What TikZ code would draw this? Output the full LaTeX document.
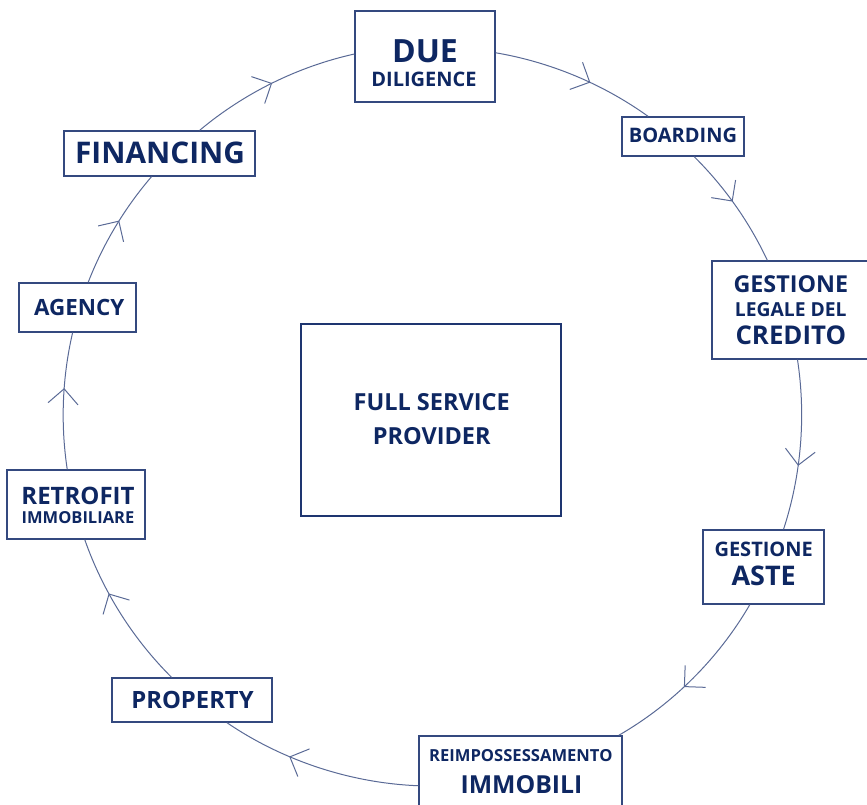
\documentclass[tikz,border=0pt]{standalone}
\usepackage{fontspec}
\setmainfont{Open Sans}
\usetikzlibrary{arrows.meta,decorations.markings}
\definecolor{txtc}{RGB}{14,39,98}
\definecolor{boxc}{RGB}{52,73,127}
\definecolor{linec}{RGB}{90,106,150}
\definecolor{mainc}{RGB}{30,53,112}
\tikzset{
  box/.style={draw=boxc, line width=1.4pt, fill=white, rectangle, inner sep=0pt},
  mainbox/.style={draw=mainc, line width=2.6pt, fill=white, rectangle, inner sep=0pt},
  lbl/.style={anchor=base, inner sep=0pt, text=txtc, font=\bfseries},
  conn/.style={draw=linec, line width=1pt, looseness=0.86, postaction={decorate},
    decoration={markings, mark=at position #1 with {\arrow{Straight Barb[length=15pt,width=30pt]}}}}
}
\newcommand{\fsz}[1]{\fontsize{#1}{#1}\selectfont}
\begin{document}
\begin{tikzpicture}[x=1pt,y=1pt]
\useasboundingbox (0,0) rectangle (867,804);
% boxes
\node[box, minimum width=140pt, minimum height=91pt] (due) at (425,747.5) {};
\node[box, minimum width=122pt, minimum height=39pt] (boarding) at (683,667.5) {};
\node[box, minimum width=157pt, minimum height=98pt] (legale) at (790.5,494) {};
\node[box, minimum width=121pt, minimum height=74pt] (aste) at (763.5,237) {};
\node[box, minimum width=203pt, minimum height=78pt] (reimp) at (520.5,29) {};
\node[box, minimum width=160pt, minimum height=44pt] (property) at (192,104) {};
\node[box, minimum width=138pt, minimum height=69pt] (retrofit) at (76,299.5) {};
\node[box, minimum width=117pt, minimum height=49pt] (agency) at (77.5,496.5) {};
\node[box, minimum width=191pt, minimum height=45pt] (financing) at (159.5,650.5) {};
\node[mainbox, minimum width=260pt, minimum height=192pt] (fsp) at (431,384) {};
% connectors
\draw[conn=0.598] (due.3.35) to[bend left=13.0] (boarding.150.7);
\draw[conn=0.464] (boarding.-61) to[bend left=10.0] (legale.115.7);
\draw[conn=0.62] (legale.-82.9) to[bend left=13.4] (aste.62.3);
\draw[conn=0.566] (aste.-110.7) to[bend left=14.9] (reimp.22.3);
\draw[conn=0.652] (reimp.-174.5) to[bend left=16.0] (property.-33.1);
\draw[conn=0.641] (property.132) to[bend left=12.9] (retrofit.-76.8);
\draw[conn=0.592] (retrofit.104.6) to[bend left=10.8] (agency.-101.1);
\draw[conn=0.559] (agency.67.2) to[bend left=9.7] (financing.-109.1);
\draw[conn=0.498] (financing.30.6) to[bend left=13.7] (due.178.9);
% labels
\node[lbl, font=\bfseries\fsz{32}] (tdue) at (425,741) {DUE};
\node[lbl, font=\bfseries\fsz{20}] (tdil) at (424,717) {DILIGENCE};
\node[lbl, font=\bfseries\fsz{20}] (tboard) at (683,661) {BOARDING};
\node[lbl, font=\bfseries\fsz{23.3}] (tgest1) at (790.8,511) {GESTIONE};
\node[lbl, font=\bfseries\fsz{19.3}] (tleg) at (790.8,487) {LEGALE DEL};
\node[lbl, font=\bfseries\fsz{25.8}] (tcred) at (790.8,459) {CREDITO};
\node[lbl, font=\bfseries\fsz{20}] (tgest2) at (763.7,248) {GESTIONE};
\node[lbl, font=\bfseries\fsz{27}] (taste) at (763.7,219) {ASTE};
\node[lbl, font=\bfseries\fsz{16.6}] (treimp) at (520.8,43) {REIMPOSSESSAMENTO};
\node[lbl, font=\bfseries\fsz{24.8}] (timm) at (521.5,11) {IMMOBILI};
\node[lbl, font=\bfseries\fsz{23.8}] (tprop) at (192.5,96) {PROPERTY};
\node[lbl, font=\bfseries\fsz{24}] (tretro) at (78,300) {RETROFIT};
\node[lbl, font=\bfseries\fsz{16.5}] (timmob) at (78,281) {IMMOBILIARE};
\node[lbl, font=\bfseries\fsz{22.4}] (tagency) at (79.2,488) {AGENCY};
\node[lbl, font=\bfseries\fsz{29.8}] (tfin) at (160,640) {FINANCING};
\node[lbl, font=\bfseries\fsz{23.5}] (tfull) at (431.7,393) {FULL SERVICE};
\node[lbl, font=\bfseries\fsz{23.5}] (tprov) at (431.7,359) {PROVIDER};
\end{tikzpicture}
\end{document}
